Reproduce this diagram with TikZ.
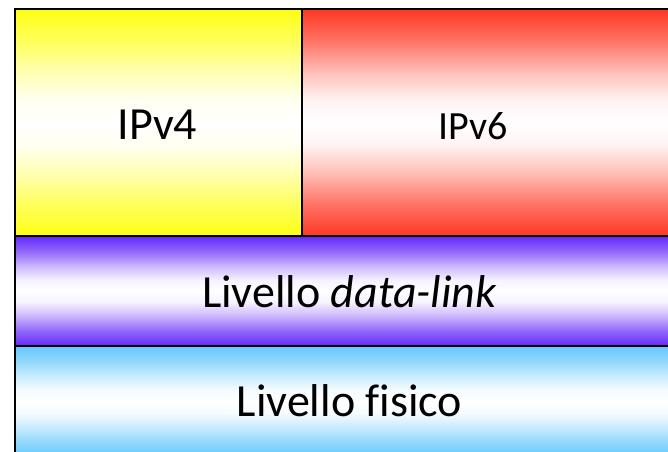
\documentclass[tikz,border=0pt]{standalone}
\usepackage{fontspec}
\setmainfont{Carlito}[Ligatures=CommonOff]
\usepackage{xcolor}

\definecolor{ipvfour}{RGB}{255,255,20}
\definecolor{ipvsix}{RGB}{255,55,35}
\definecolor{linkcol}{RGB}{100,40,250}
\definecolor{physcol}{RGB}{100,200,250}
\colorlet{shadecol}{ipvfour}

% colour -> white -> colour, with a wide pale band in the middle
\pgfdeclareverticalshading[shadecol]{layershade}{100bp}{
  color(0bp)=(shadecol); color(25bp)=(shadecol);
  color(32bp)=(shadecol!70!white); color(39bp)=(shadecol!32!white);
  color(45bp)=(shadecol!6!white); color(50bp)=(white);
  color(55bp)=(shadecol!6!white); color(61bp)=(shadecol!32!white);
  color(68bp)=(shadecol!70!white);
  color(75bp)=(shadecol); color(100bp)=(shadecol)}

\tikzset{
  layerfill/.style={/utils/exec={\colorlet{shadecol}{#1}}, shading=layershade},
  layerbox/.style={draw=black, line width=1pt},
  layertext/.style={anchor=base, inner sep=0pt, font=\fontsize{23}{28}\selectfont},
}

\begin{document}
\begin{tikzpicture}[x=0.5pt,y=0.5pt,yscale=-1,xscale=1]
                    \clip (0,0) rectangle (668,451);
                    % IPv4 block
                    \shade [layerfill=ipvfour] (15,9) rectangle (302,236);
                    % IPv6 block
                    \shade [layerfill=ipvsix] (302,9) rectangle (684,236);
                    % data-link layer
                    \shade [layerfill=linkcol] (15,236) rectangle (684,346);
                    % physical layer
                    \shade [layerfill=physcol] (15,346) rectangle (684,457);

                    % Outlines
                    \draw [layerbox] (15,9) rectangle (302,236);
                    \draw [layerbox] (302,9) rectangle (684,236);
                    \draw [layerbox] (15,236) rectangle (684,346);
                    \draw [layerbox] (15,346) rectangle (684,457);

                    % Text Node
                    \node [layertext] (ipv4) at (157.5,139) {IPv4};
                    % Text Node
                    \node [layertext, font=\fontsize{20}{24}\selectfont] (ipv6) at (473,139) {IPv6};
                    % Text Node
                    \node [layertext] (datalink) at (349.5,307) {Livello \textit{data-link}};
                    % Text Node
                    \node [layertext] (fisico) at (349.5,416) {Livello fisico};
\end{tikzpicture}
\end{document}
